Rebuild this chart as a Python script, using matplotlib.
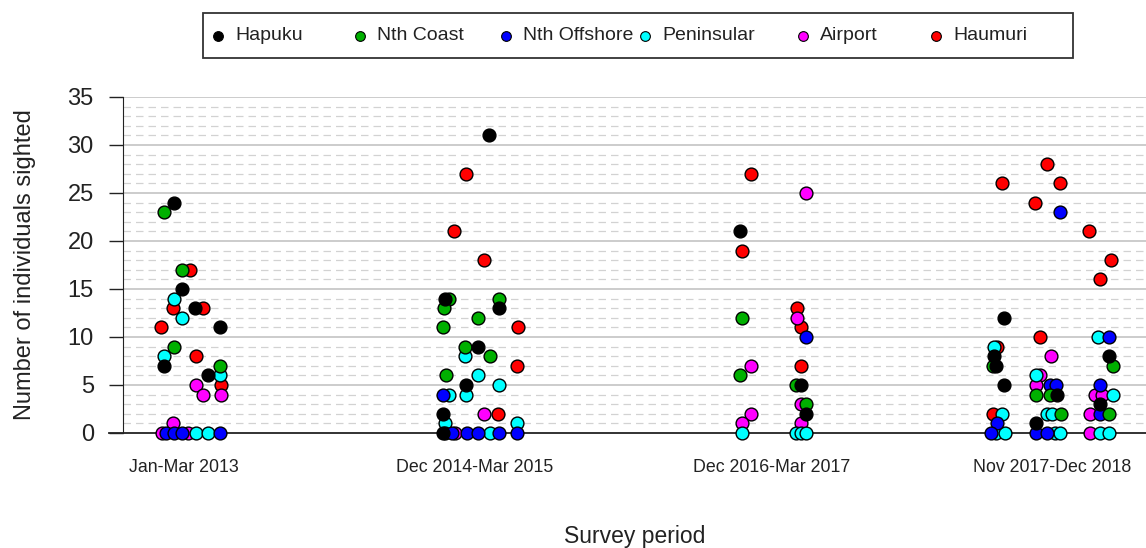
import numpy as np
import matplotlib
matplotlib.use("Agg")
import matplotlib.pyplot as plt
from matplotlib.lines import Line2D
from matplotlib.patches import Rectangle

plt.rcParams['font.family'] = ['Liberation Sans', 'DejaVu Sans']

# survey periods and where they sit on the x axis
periods = ["Jan-Mar 2013", "Dec 2014-Mar 2015", "Dec 2016-Mar 2017", "Nov 2017-Dec 2018"]
period_pos = [1.0, 1.983, 2.986, 3.932]

sites = ["Hapuku", "Nth Coast", "Nth Offshore", "Peninsular", "Airport", "Haumuri"]
site_colors = ["#000000", "#00B000", "#0000FF", "#00FFFF", "#FF00FF", "#FF0000"]

# counts per site, one list per survey period, with the horizontal jitter used
hapuku_counts = [[24, 15, 13, 11, 7, 6],
                 [31, 14, 13, 9, 5, 2, 0],
                 [21, 5, 2],
                 [12, 8, 7, 5, 4, 1, 8, 3]]
hapuku_jitter = [[-0.033, -0.006, 0.037, 0.122, -0.067, 0.082],
                 [0.048, -0.101, 0.081, 0.011, -0.031, -0.107, -0.107],
                 [-0.106, 0.097, 0.115],
                 [-0.161, -0.195, -0.189, -0.161, 0.016, -0.055, 0.194, 0.162]]

coast_counts = [[23, 17, 9, 7],
                [14, 14, 13, 12, 11, 9, 8, 6],
                [12, 6, 5, 3],
                [7, 4, 4, 2, 7, 2]]
coast_jitter = [[-0.067, -0.006, -0.033, 0.122],
                [-0.087, 0.081, -0.104, 0.011, -0.107, -0.034, 0.051, -0.099],
                [-0.1, -0.106, 0.083, 0.117],
                [-0.198, -0.055, -0.007, 0.03, 0.205, 0.194]]

offshore_counts = [[0, 0, 0, 0],
                   [4, 0, 0, 0, 0, 0],
                   [10],
                   [23, 5, 5, 1, 0, 0, 0, 10, 5, 2]]
offshore_jitter = [[-0.059, -0.034, -0.005, 0.122],
                   [-0.107, -0.077, -0.028, 0.011, 0.081, 0.143],
                   [0.115],
                   [0.027, -0.007, 0.014, -0.187, -0.204, -0.055, -0.016, 0.194, 0.162, 0.162]]

peninsular_counts = [[14, 12, 8, 6, 0, 0],
                     [8, 6, 5, 4, 4, 1, 1, 0, 0],
                     [0, 0, 0, 0],
                     [9, 6, 2, 2, 2, 0, 0, 0, 0, 10, 4, 0, 0]]
peninsular_jitter = [[-0.033, -0.006, -0.067, 0.122, 0.04, 0.081],
                     [-0.034, 0.011, 0.08, -0.087, -0.031, -0.101, 0.143, -0.101, 0.051],
                     [-0.102, 0.083, 0.1, 0.115],
                     [-0.195, -0.055, -0.167, -0.016, -0.001, -0.189, -0.159, 0.01, 0.027,
                      0.156, 0.205, 0.162, 0.194]]

airport_counts = [[5, 4, 4, 1, 0, 0],
                  [2, 0],
                  [25, 12, 7, 3, 2, 1, 1],
                  [8, 6, 5, 4, 4, 2, 0]]
airport_jitter = [[0.04, 0.063, 0.125, -0.036, -0.075, 0.014],
                  [0.03, -0.068],
                  [0.117, 0.085, -0.072, 0.097, -0.071, -0.102, 0.097],
                  [-0.003, -0.041, -0.055, 0.145, 0.171, 0.128, 0.128]]

haumuri_counts = [[17, 13, 13, 11, 8, 5],
                  [27, 21, 18, 11, 7, 2],
                  [27, 19, 13, 11, 7],
                  [28, 26, 26, 24, 21, 18, 16, 10, 9, 2]]
haumuri_jitter = [[0.02, -0.036, 0.065, -0.078, 0.04, 0.125],
                  [-0.031, -0.07, 0.03, 0.144, 0.143, 0.079],
                  [-0.072, -0.102, 0.085, 0.097, 0.099],
                  [-0.016, -0.168, 0.026, -0.057, 0.125, 0.199, 0.161, -0.041, -0.185, -0.2]]

all_counts = [hapuku_counts, coast_counts, offshore_counts,
              peninsular_counts, airport_counts, haumuri_counts]
all_jitter = [hapuku_jitter, coast_jitter, offshore_jitter,
              peninsular_jitter, airport_jitter, haumuri_jitter]

fig = plt.figure(figsize=(11.46, 5.48), dpi=100)
ax = fig.add_axes([0.1073, 0.2099, 0.8927, 0.6131])

# grid: dashed every individual, solid every 5
for v in range(1, 35):
    if v % 5:
        ax.axhline(v, color="#d2d2d2", lw=0.9, ls=(0, (6, 4)), zorder=0)
for v in range(5, 36, 5):
    ax.axhline(v, color="#c8c8c8", lw=1.3, zorder=0)

# last site drawn first so Hapuku sits on top
for i in range(len(sites) - 1, -1, -1):
    xs, ys = [], []
    for p in range(len(periods)):
        xs += [period_pos[p] + j for j in all_jitter[i][p]]
        ys += all_counts[i][p]
    ax.scatter(xs, ys, s=85, c=site_colors[i], edgecolors="black",
               linewidths=1.0, zorder=3, clip_on=False)

ax.axhline(0, xmin=-0.014, xmax=1, color="#222222", lw=1.3, zorder=2, clip_on=False)

ax.set_xlim(0.794, 4.25)
ax.set_ylim(0, 35)
ax.set_yticks(range(0, 36, 5))
ax.set_xticks(period_pos)
ax.set_xticklabels(periods, fontsize=12.8, color="#222222")
ax.tick_params(axis="x", length=0, pad=19)
ax.tick_params(axis="y", length=10, width=1, labelsize=17, pad=11, colors="#222222")
for s in ["top", "right", "bottom"]:
    ax.spines[s].set_visible(False)
ax.spines["left"].set_color("#222222")
ax.set_ylabel("Number of individuals sighted", fontsize=17, color="#222222")
ax.yaxis.set_label_coords(-0.085, 0.5)
ax.set_xlabel("Survey period", fontsize=16.5, color="#222222")
ax.xaxis.set_label_coords(0.5, -0.275)

# legend across the top
W, H = 1146.0, 548.0
fig.patches.append(Rectangle((203 / W, 1 - 58 / H), 870 / W, 45 / H, transform=fig.transFigure,
                             fill=False, edgecolor="#333333", lw=1.3))
legend_x = [218, 360, 506, 645, 803, 936]
for name, col, px in zip(sites, site_colors, legend_x):
    fig.lines.append(Line2D([px / W], [1 - 36 / H], marker="o", markersize=7,
                            markerfacecolor=col, markeredgecolor="black", markeredgewidth=0.8,
                            transform=fig.transFigure))
    fig.text((px + 17) / W, 1 - 36 / H, name, fontsize=14, va="center", ha="left", color="#222222")

fig.savefig("out.png", dpi=100)
